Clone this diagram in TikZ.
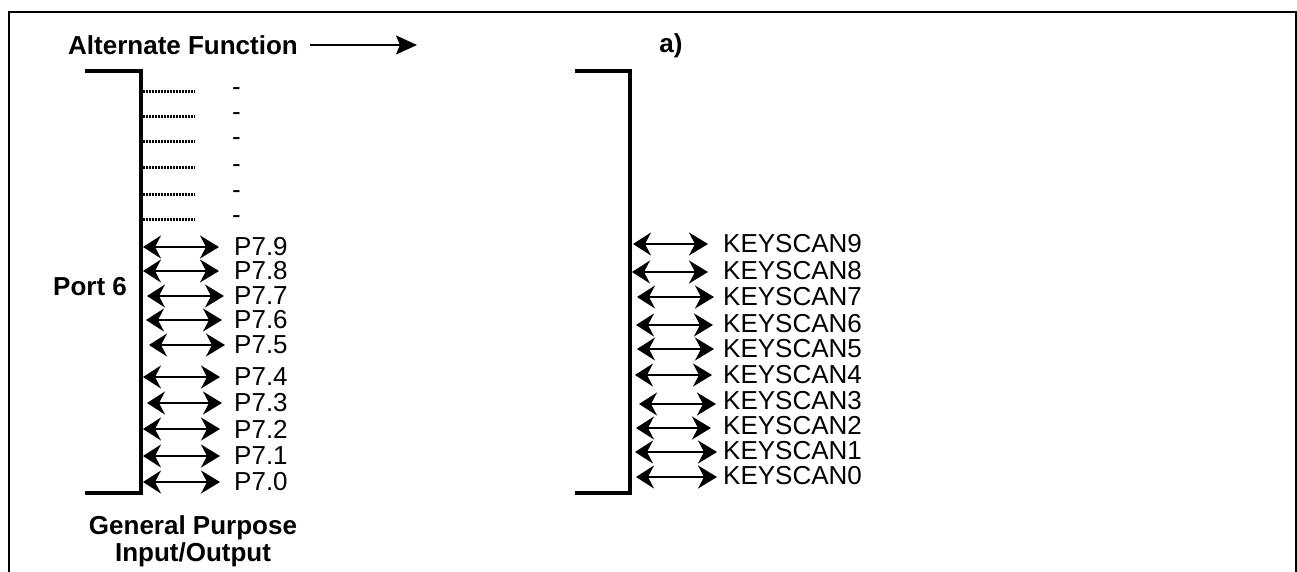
\documentclass[tikz,border=0pt]{standalone}
\usepackage{fontspec}
\setmainfont{Liberation Sans}
\usetikzlibrary{arrows.meta}
\begin{document}
\begin{tikzpicture}[x=1pt,y=-1pt,
  lbl/.style={anchor=west,inner sep=0pt,font=\fontsize{26}{30}\selectfont},
  blbl/.style={inner sep=0pt,font=\fontsize{26}{27}\selectfont\bfseries,align=center},
  tip/.style={Stealth[length=18pt,width=23pt,inset=6pt]},
  biarrow/.style={line width=2pt,{Stealth[length=18pt,width=23pt,inset=6pt]}-{Stealth[length=19pt,width=23pt,inset=6pt]}},
  bracket/.style={line width=3.5pt},
  frame/.style={line width=2.2pt},
  dotl/.style={line width=3pt,dash pattern=on 2pt off 1pt}]
\useasboundingbox (0,0) rectangle (1297,572);
% frame (bottom open)
\draw[frame] (9,580) -- (9,12) -- (1296,12) -- (1296,580);
% title row
\node[blbl,anchor=west] (alt) at (68,45) {Alternate Function};
\coordinate (altend) at (417,45);
\draw[line width=2pt,-{Stealth[length=21pt,width=19pt,inset=4pt]}] (alt.east) ++(12,0) coordinate (altstart) -- (altend);
\node[blbl] (a) at (671,46) {a)};
% brackets
\draw[bracket] (85,71) -- (141,71) -- (141,493) -- (85,493);
\draw[bracket] (575,71) -- (630,71) -- (630,493) -- (575,493);
\node[blbl,anchor=west] (port) at (53,287) {Port 6};
\node[blbl] (gpio) at (193,541) {General Purpose\\Input/Output};
% dotted lines and dashes
\foreach \i/\y in {1/92,2/117,3/142,4/168,5/194,6/219}{
  \coordinate (ds\i) at (143,\y);
  \coordinate (de\i) at (195,\y);
  \draw[dotl] (ds\i) -- (de\i);
  \node[lbl,anchor=base west] (dash\i) at (232,\y+4) {-};
}
% P7 rows
\foreach \n/\y/\xs/\xe in {9/247/143/219,8/271/143/219,7/296/147/224,6/320/146/222,5/345/149/225,4/377/143/220,3/403/147/222,2/429/143/220,1/456/143/220,0/482/143/220}{
  \coordinate (ps\n) at (\xs,\y);
  \node[lbl] (p\n) at (234,\y) {P7.\n};
  \draw[biarrow] (ps\n) -- (p\n.west -| \xe,0);
}
% KEYSCAN rows
\foreach \n/\y/\ty/\xs/\xe in {9/244/244/633/708,8/272/271/632/708,7/297/297/637/714,6/325/324/636/713,5/349/349/637/714,4/375/375/635/712,3/404/401/639/716,2/428/426/636/711,1/452/451/635/717,0/477/476/636/717}{
  \coordinate (ks\n) at (\xs,\y);
  \node[lbl] (k\n) at (723,\ty) {KEYSCAN\n};
  \draw[biarrow] (ks\n) -- (ks\n -| \xe,0);
}
\end{tikzpicture}
\end{document}
